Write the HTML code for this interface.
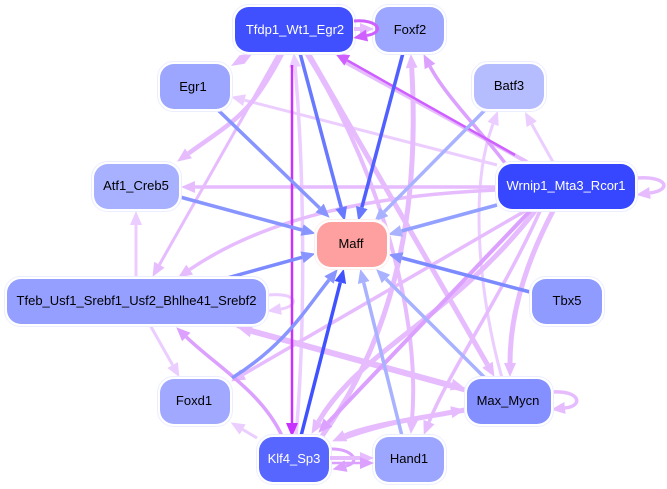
<!DOCTYPE html>
<html><head><meta charset="utf-8"><style>
html,body{margin:0;padding:0;background:#fff}
svg{display:block}
text{font-family:"Liberation Sans",sans-serif;font-size:13px;text-anchor:middle;fill:#000}
.e{fill:none}
</style></head><body>
<svg width="667" height="489" viewBox="0 0 667 489" xmlns="http://www.w3.org/2000/svg">
<defs>
<marker id="a1" markerUnits="userSpaceOnUse" markerWidth="15" markerHeight="13" refX="0" refY="6" orient="auto"><path d="M0,0L14,6L0,12z" fill="#eccdff"/></marker>
<marker id="a2" markerUnits="userSpaceOnUse" markerWidth="15" markerHeight="13" refX="0" refY="6" orient="auto"><path d="M0,0L14,6L0,12z" fill="#e6bcff"/></marker>
<marker id="a3" markerUnits="userSpaceOnUse" markerWidth="15" markerHeight="13" refX="0" refY="6" orient="auto"><path d="M0,0L14,6L0,12z" fill="#dca0ff"/></marker>
<marker id="a4" markerUnits="userSpaceOnUse" markerWidth="15" markerHeight="13" refX="0" refY="6" orient="auto"><path d="M0,0L14,6L0,12z" fill="#cf60ff"/></marker>
<marker id="a5" markerUnits="userSpaceOnUse" markerWidth="15" markerHeight="13" refX="0" refY="6" orient="auto"><path d="M0,0L14,6L0,12z" fill="#c832ff"/></marker>
<marker id="b1" markerUnits="userSpaceOnUse" markerWidth="15" markerHeight="13" refX="0" refY="6" orient="auto"><path d="M0,0L14,6L0,12z" fill="#a8b2ff"/></marker>
<marker id="b2" markerUnits="userSpaceOnUse" markerWidth="15" markerHeight="13" refX="0" refY="6" orient="auto"><path d="M0,0L14,6L0,12z" fill="#8895ff"/></marker>
<marker id="b3" markerUnits="userSpaceOnUse" markerWidth="15" markerHeight="13" refX="0" refY="6" orient="auto"><path d="M0,0L14,6L0,12z" fill="#6878ff"/></marker>
<marker id="b4" markerUnits="userSpaceOnUse" markerWidth="15" markerHeight="13" refX="0" refY="6" orient="auto"><path d="M0,0L14,6L0,12z" fill="#4052ff"/></marker>
</defs>

<g class="e" stroke="#eccdff" stroke-width="3">
<path d="M553,162L531.8,124.2" marker-end="url(#a1)"/>
<path d="M502,378C480,300 468,190 493,124" marker-end="url(#a1)"/>
<path d="M497,165L244.6,100.2" marker-end="url(#a1)"/>
<path d="M136,278L136,225" marker-end="url(#a1)"/>
<path d="M150,325L172.6,365" marker-end="url(#a1)"/>
<path d="M257,438L242.7,429.5" marker-end="url(#a1)"/>
<path d="M268,295C298,292 300,306 281,309" marker-end="url(#a1)"/>
<path d="M296,436C306,320 304,170 295.1,67" stroke-width="3.5" marker-end="url(#a1)"/>
</g>
<g class="e" stroke="#e6bcff">
<path d="M497,187L195,187" stroke-width="3.5" marker-end="url(#a2)"/>
<path d="M497,190C380,195 270,215 189.7,269.6" stroke-width="3.5" marker-end="url(#a2)"/>
<path d="M278,55L159.4,264.7" stroke-width="3" marker-end="url(#a2)"/>
<path d="M282,54C250,115 235,120 188.5,153.4" stroke-width="4.5" marker-end="url(#a2)"/>
<path d="M306,53C368,150 422,300 412,420" stroke-width="4" marker-end="url(#a2)"/>
<path d="M322,436C395,335 420,210 411.7,68" stroke-width="5" marker-end="url(#a2)"/>
<path d="M308,53L487.5,364.7" stroke-width="5" marker-end="url(#a2)"/>
<path d="M525,211L243.2,374.4" stroke-width="3.5" marker-end="url(#a2)"/>
<path d="M540,211C505,290 450,370 429,422" stroke-width="3.5" marker-end="url(#a2)"/>
<path d="M553,211C522,270 510,320 510,363" stroke-width="5" marker-end="url(#a2)"/>
<path d="M535,211C450,320 360,350 318.5,421.7" stroke-width="5" marker-end="url(#a2)"/>
<path d="M465,390L251.5,331.5" stroke-width="5" marker-end="url(#a2)"/>
<path d="M237,326L451.5,384.6" stroke-width="4" marker-end="url(#a2)"/>
<path d="M465,410C420,418 370,425 345,435.8" stroke-width="5" marker-end="url(#a2)"/>
<path d="M340,440C380,425 420,418 451.2,412.2" stroke-width="3" marker-end="url(#a2)"/>
<path d="M637,178C668,176 672,190 650,193" stroke-width="3.5" marker-end="url(#a2)"/>
<path d="M552,392C580,390 584,406 565,408" stroke-width="3.5" marker-end="url(#a2)"/>
<path d="M527,162L345,62" stroke-width="4"/>
</g>
<polygon points="231,66 244.5,63.8 253,53 239.5,55.2" fill="#e6bcff"/>
<g class="e" stroke="#dca0ff">
<path d="M505,163C480,130 445,95 430,66.5" stroke-width="3.5" marker-end="url(#a3)"/>
<path d="M282,436C262,392 215,365 186.3,337" stroke-width="3.5" marker-end="url(#a3)"/>
<path d="M530,211L328,422.6" stroke-width="4" marker-end="url(#a3)"/>
<path d="M330,449C352,448 362,462 346,466" stroke-width="3" marker-end="url(#a3)"/>
</g>
<g class="e">
<path d="M515,155L347.3,60.4" stroke="#cf60ff" stroke-width="2.5" marker-end="url(#a4)"/>
<path d="M292,65L292,423" stroke="#c832ff" stroke-width="2.5" marker-end="url(#a5)"/>
</g>
<g class="e" stroke-width="3.5">
<path d="M300,53L341.2,207.5" stroke="#6878ff" marker-end="url(#b3)"/>
<path d="M403,53L361.8,207.5" stroke="#5060ff" marker-end="url(#b3)"/>
<path d="M218,110L319.6,208" stroke="#8895ff" marker-end="url(#b2)"/>
<path d="M485,110L384.2,211.8" stroke="#a8b2ff" marker-end="url(#b1)"/>
<path d="M180,197L302,230" stroke="#8895ff" marker-end="url(#b2)"/>
<path d="M497,205L401.5,231" stroke="#92a0ff" marker-end="url(#b1)"/>
<path d="M227,278L302,257.3" stroke="#7c8aff" marker-end="url(#b2)"/>
<path d="M530,292L402,258" stroke="#7c8aff" marker-end="url(#b2)"/>
<path d="M232,378C285,345 305,310 329,280" stroke="#8895ff" marker-end="url(#b2)"/>
<path d="M301,436L340.3,282.5" stroke="#4052ff" marker-end="url(#b4)"/>
<path d="M402,436L363.7,282.6" stroke="#a8b2ff" marker-end="url(#b1)"/>
<path d="M485,378L386,279" stroke="#a8b2ff" marker-end="url(#b1)"/>
</g>

<g stroke="#eceeff" stroke-width="1" fill="#fff">
<rect x="232.5" y="4.5" width="123" height="50" rx="16"/>
<rect x="372.5" y="4.5" width="74" height="50" rx="16"/>
<rect x="157.5" y="61.5" width="75" height="50" rx="16"/>
<rect x="471.5" y="61.5" width="75" height="50" rx="16"/>
<rect x="91.5" y="161.5" width="90" height="50" rx="16"/>
<rect x="495.5" y="161.5" width="142" height="50" rx="16"/>
<rect x="314.5" y="219.5" width="75" height="50" rx="16" stroke="#ffeeee"/>
<rect x="4.5" y="276.5" width="264" height="50" rx="16"/>
<rect x="529.5" y="276.5" width="75" height="50" rx="16"/>
<rect x="157.5" y="376.5" width="75" height="50" rx="16"/>
<rect x="464.5" y="376.5" width="89" height="50" rx="16"/>
<rect x="256.5" y="434.5" width="75" height="50" rx="16"/>
<rect x="372.5" y="434.5" width="74" height="50" rx="16"/>
</g>
<rect x="235" y="7" width="118" height="45" rx="14" fill="#4050ff"/>
<rect x="375" y="7" width="69" height="45" rx="14" fill="#9ca6ff"/>
<rect x="160" y="64" width="70" height="45" rx="14" fill="#9ca6ff"/>
<rect x="474" y="64" width="70" height="45" rx="14" fill="#b6bdff"/>
<rect x="94" y="164" width="85" height="45" rx="14" fill="#a8b1ff"/>
<rect x="498" y="164" width="137" height="45" rx="14" fill="#3647ff"/>
<rect x="317" y="222" width="70" height="45" rx="14" fill="#ffa0a0"/>
<rect x="7" y="279" width="259" height="45" rx="14" fill="#959fff"/>
<rect x="532" y="279" width="70" height="45" rx="14" fill="#8f9bff"/>
<rect x="160" y="379" width="70" height="45" rx="14" fill="#a0a9ff"/>
<rect x="467" y="379" width="84" height="45" rx="14" fill="#8490ff"/>
<rect x="259" y="437" width="70" height="45" rx="14" fill="#5766ff"/>
<rect x="375" y="437" width="69" height="45" rx="14" fill="#9ca6ff"/>

<g class="e">
<path d="M354,29L360,29" stroke="#e6bcff" stroke-width="4" marker-end="url(#a2)"/>
<path d="M354,21C378,19 386,32 367,35.5" stroke="#cf60ff" stroke-width="3" marker-end="url(#a4)"/>
<path d="M330,458L360,458" stroke="#e6bcff" stroke-width="4" marker-end="url(#a2)"/>
<path d="M332,463L360,463" stroke="#dca0ff" stroke-width="2.5" marker-end="url(#a3)"/>
</g>

<text x="295" y="34" style="fill:#fff">Tfdp1_Wt1_Egr2</text>
<text x="410" y="34">Foxf2</text>
<text x="193" y="91">Egr1</text>
<text x="509" y="90">Batf3</text>
<text x="136" y="190">Atf1_Creb5</text>
<text x="566" y="190" style="fill:#fff">Wrnip1_Mta3_Rcor1</text>
<text x="351" y="248">Maff</text>
<text x="136.5" y="305">Tfeb_Usf1_Srebf1_Usf2_Bhlhe41_Srebf2</text>
<text x="567" y="305">Tbx5</text>
<text x="194" y="405">Foxd1</text>
<text x="508" y="405">Max_Mycn</text>
<text x="294" y="463" style="fill:#fff">Klf4_Sp3</text>
<text x="409" y="463">Hand1</text>
</svg>
</body></html>
